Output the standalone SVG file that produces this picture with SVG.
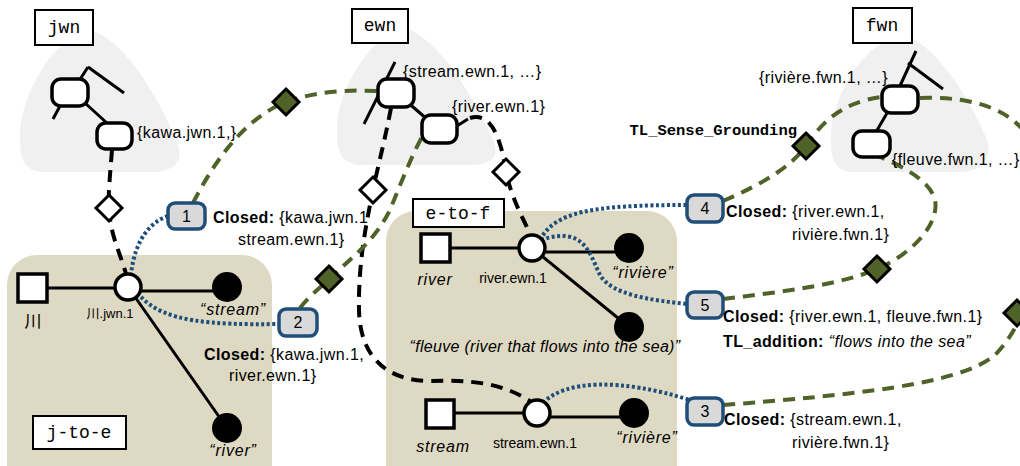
<svg xmlns="http://www.w3.org/2000/svg" width="1020" height="466" viewBox="0 0 1020 466">
<defs>
<style>
.blob{fill:#F0F0F0;stroke:none}
.panel{fill:#DDD9C3;stroke:none}
.tree{stroke:#000;stroke-width:3;fill:none}
.syn{fill:#fff;stroke:#000;stroke-width:3.5}
.sq{fill:#fff;stroke:#000;stroke-width:3.5}
.oc{fill:#fff;stroke:#000;stroke-width:3.5}
.dot{fill:#000}
.edge{stroke:#000;stroke-width:3;fill:none}
.bdash{stroke:#000;stroke-width:4;fill:none;stroke-dasharray:12 8}
.gdash{stroke:#4F6228;stroke-width:4;fill:none;stroke-dasharray:12 8}
.blue{stroke:#1F4E79;stroke-width:4;fill:none;stroke-dasharray:3 2.5}
.hd{fill:#fff;stroke:#000;stroke-width:3}
.gd{fill:#4F6228;stroke:#000;stroke-width:3}
.nb{fill:#D9D9D9;stroke:#1F4E79;stroke-width:3.5}
.lbl{fill:#fff;stroke:#000;stroke-width:2}
.mono{font-family:"Liberation Mono","Courier New",monospace;font-size:18px;fill:#000}
.sans{font-family:"Liberation Sans",Arial,sans-serif;font-size:16px;fill:#000;letter-spacing:0.4px}
.small{font-family:"Liberation Sans",Arial,"Noto Sans CJK JP",sans-serif;font-size:14px;fill:#000}
.it{font-family:"Liberation Sans",Arial,sans-serif;font-size:16px;font-style:italic;fill:#000;letter-spacing:0.8px}
.num{font-family:"Liberation Sans",Arial,sans-serif;font-size:16px;fill:#000}
.b{font-weight:bold}
</style>
</defs>

<!-- background blobs -->
<g id="wordnet-areas">
<path class="blob" d="M 95,32 C 130,45 165,110 178,145 C 184,165 170,172 150,172 L 45,172 C 25,172 19,160 20,135 C 21,95 55,30 95,32 Z"/>
<path class="blob" d="M 410,30 C 445,45 480,110 494,142 C 500,160 488,165 468,165 L 362,165 C 342,165 336,152 337,128 C 338,90 372,28 410,30 Z"/>
<path class="blob" d="M 907,36 C 942,50 975,110 987,140 C 993,160 980,172 960,172 L 855,172 C 835,172 830,160 831,135 C 832,95 868,34 907,36 Z"/>
</g>

<!-- panels -->
<g id="panel-j-to-e">
<rect class="panel" x="7" y="255" width="265" height="260" rx="30"/>
</g>
<g id="panel-e-to-f">
<rect class="panel" x="386" y="211" width="291" height="300" rx="30"/>
</g>

<!-- tree lines -->
<g id="tree-lines">
<line class="tree" x1="88" y1="67" x2="124" y2="93"/>
<line class="tree" x1="88" y1="67" x2="79" y2="81"/>
<line class="tree" x1="60" y1="106" x2="53" y2="119"/>
<line class="tree" x1="85" y1="103" x2="108" y2="124"/>
<line class="tree" x1="395" y1="62" x2="364" y2="124"/>
<line class="tree" x1="405" y1="100" x2="428" y2="120"/>
<line class="tree" x1="452" y1="129" x2="468" y2="119"/>
<line class="tree" x1="916" y1="51" x2="899" y2="88"/>
<line class="tree" x1="908" y1="63" x2="943" y2="89"/>
<line class="tree" x1="890" y1="108" x2="876" y2="132"/>
</g>

<!-- panel edges -->
<g id="panel-edges">
<line class="edge" x1="47" y1="288" x2="128" y2="288"/>
<line class="edge" x1="128" y1="291" x2="227" y2="291"/>
<line class="edge" x1="128" y1="287" x2="227" y2="428"/>
<line class="edge" x1="450" y1="248" x2="532" y2="248"/>
<line class="edge" x1="532" y1="252" x2="629" y2="252"/>
<line class="edge" x1="532" y1="248" x2="629" y2="327"/>
<line class="edge" x1="453" y1="413" x2="537" y2="413"/>
<line class="edge" x1="537" y1="417" x2="634" y2="417"/>
</g>

<!-- connectors -->
<g id="connectors">
<path class="bdash" d="M 112,150 C 110,175 108,195 109,208 C 110,235 121,255 126,274"/>
<path class="bdash" d="M 391,108 C 385,140 377,170 373,190 C 368,215 358,260 359,310 C 360,360 390,381 430,381 C 470,380 500,382 530,401"/>
<path class="bdash" d="M 470,118 C 490,112 498,135 503,155 C 505,165 505,168 506,172 C 512,200 524,220 531,236"/>
<path class="gdash" d="M 193,203 C 210,170 240,120 286,102 C 320,90 350,90 378,91"/>
<path class="gdash" d="M 300,308 C 310,295 320,288 329,279 C 355,255 375,240 390,210 C 400,185 412,155 424,133"/>
<path class="gdash" d="M 723,201 C 760,185 790,168 806,146 C 820,125 840,102 882,97"/>
<path class="gdash" d="M 723,299 C 780,292 840,285 877,269 C 910,255 940,225 935,200 C 930,180 900,165 878,156"/>
<path class="gdash" d="M 723,405 C 850,395 960,385 995,355 C 1030,320 1045,250 1045,200 C 1045,125 1000,95 918,98"/>
<path class="blue" d="M 168,216 C 150,222 135,240 131,274"/>
<path class="blue" d="M 141,297 C 165,322 210,325 279,324"/>
<path class="blue" d="M 540,240 C 555,212 590,205 687,205"/>
<path class="blue" d="M 541,240 C 585,225 590,255 600,275 C 612,295 650,300 687,304"/>
<path class="blue" d="M 543,403 C 565,380 620,378 690,400"/>
</g>

<!-- diamonds -->
<g id="diamonds">
<polygon class="hd" points="109,195 122,208 109,221 96,208"/>
<polygon class="hd" points="373,177 386,190 373,203 360,190"/>
<polygon class="hd" points="506,159 519,172 506,185 493,172"/>
<polygon class="gd" points="286,89 299,102 286,115 273,102"/>
<polygon class="gd" points="329,266 342,279 329,292 316,279"/>
<polygon class="gd" points="806,133 819,146 806,159 793,146"/>
<polygon class="gd" points="877,256 890,269 877,282 864,269"/>
<polygon class="gd" points="1017,300 1030,313 1017,326 1004,313"/>
</g>

<!-- jwn -->
<g id="jwn">
<rect class="lbl" x="35" y="10" width="58" height="35"/>
<text class="mono" x="64" y="33" text-anchor="middle">jwn</text>
<rect class="syn" x="52" y="79" width="36" height="27" rx="9"/>
<rect class="syn" x="97" y="123" width="35" height="26" rx="9"/>
<text class="sans" x="137" y="138">{kawa.jwn.1,}</text>
</g>

<!-- ewn -->
<g id="ewn">
<rect class="lbl" x="352" y="9" width="56" height="34"/>
<text class="mono" x="380" y="31" text-anchor="middle">ewn</text>
<rect class="syn" x="378" y="79" width="36" height="28" rx="9"/>
<rect class="syn" x="422" y="115" width="35" height="28" rx="9"/>
<text class="sans" x="403" y="77">{stream.ewn.1, …}</text>
<text class="sans" x="452" y="112">{river.ewn.1}</text>
</g>

<!-- fwn -->
<g id="fwn">
<rect class="lbl" x="853" y="8" width="59" height="35"/>
<text class="mono" x="882" y="31" text-anchor="middle">fwn</text>
<rect class="syn" x="882" y="86" width="36" height="27" rx="9"/>
<rect class="syn" x="853" y="131" width="37" height="26" rx="9"/>
<text class="sans" x="888" y="83" text-anchor="end">{rivière.fwn.1, …}</text>
<text class="sans" x="892" y="165">{fleuve.fwn.1, …}</text>
<text class="mono b" x="797" y="135" text-anchor="end" style="font-size:15.5px">TL_Sense_Grounding</text>
</g>

<!-- j-to-e contents -->
<g id="j-to-e">
<rect class="lbl" x="33" y="416" width="93" height="33"/>
<text class="mono" x="79" y="438" text-anchor="middle">j-to-e</text>
<rect class="sq" x="18" y="274" width="29" height="28"/>
<text class="small" x="33" y="327" text-anchor="middle" style="font-size:17px">川</text>
<circle class="oc" cx="128" cy="287" r="13"/>
<text class="small" x="110" y="318" text-anchor="middle" style="font-size:13px">川.jwn.1</text>
<circle class="dot" cx="227" cy="287" r="15"/>
<text class="it" x="233" y="315" text-anchor="middle">“stream”</text>
<circle class="dot" cx="227" cy="428" r="15"/>
<text class="it" x="233" y="456" text-anchor="middle">“river”</text>
</g>

<!-- e-to-f contents -->
<g id="e-to-f">
<rect class="lbl" x="413" y="199" width="91" height="28"/>
<text class="mono" x="458" y="219" text-anchor="middle">e-to-f</text>
<rect class="sq" x="421" y="234" width="29" height="28"/>
<text class="it" x="435" y="285" text-anchor="middle">river</text>
<circle class="oc" cx="532" cy="248" r="13"/>
<text class="small" x="513" y="283" text-anchor="middle">river.ewn.1</text>
<circle class="dot" cx="629" cy="248" r="15"/>
<text class="it" x="643" y="278" text-anchor="middle">“rivière”</text>
<circle class="dot" cx="629" cy="327" r="15"/>
<text class="it" x="545" y="352" text-anchor="middle" style="letter-spacing:0.3px">“fleuve (river that flows into the sea)”</text>
<rect class="sq" x="426" y="400" width="28" height="28"/>
<text class="it" x="443" y="452" text-anchor="middle">stream</text>
<circle class="oc" cx="537" cy="413" r="13"/>
<text class="small" x="535" y="448" text-anchor="middle">stream.ewn.1</text>
<circle class="dot" cx="634" cy="413" r="15"/>
<text class="it" x="647" y="443" text-anchor="middle">“rivière”</text>
</g>

<!-- numbered closures -->
<g id="closure-1">
<rect class="nb" x="168" y="203" width="37" height="26" rx="7"/>
<text class="num" x="186.5" y="222" text-anchor="middle">1</text>
<text class="sans" x="213" y="223"><tspan class="b">Closed:</tspan> {kawa.jwn.1</text>
<text class="sans" x="238" y="245">stream.ewn.1}</text>
</g>
<g id="closure-2">
<rect class="nb" x="279" y="309" width="38" height="27" rx="7"/>
<text class="num" x="298" y="328" text-anchor="middle">2</text>
<text class="sans" x="204" y="360"><tspan class="b">Closed:</tspan> {kawa.jwn.1,</text>
<text class="sans" x="229" y="381">river.ewn.1}</text>
</g>
<g id="closure-4">
<rect class="nb" x="687" y="195" width="36" height="27" rx="7"/>
<text class="num" x="705" y="214" text-anchor="middle">4</text>
<text class="sans" x="726" y="217"><tspan class="b">Closed:</tspan> {river.ewn.1,</text>
<text class="sans" x="792" y="240">rivière.fwn.1}</text>
</g>
<g id="closure-5">
<rect class="nb" x="687" y="292" width="36" height="26" rx="7"/>
<text class="num" x="705" y="311" text-anchor="middle">5</text>
<text class="sans" x="723" y="322"><tspan class="b">Closed:</tspan> {river.ewn.1, fleuve.fwn.1}</text>
<text class="sans" x="723" y="347"><tspan class="b">TL_addition:</tspan> <tspan font-style="italic">“flows into the sea”</tspan></text>
</g>
<g id="closure-3">
<rect class="nb" x="687" y="398" width="36" height="27" rx="7"/>
<text class="num" x="705" y="417" text-anchor="middle">3</text>
<text class="sans" x="724" y="425"><tspan class="b">Closed:</tspan> {stream.ewn.1,</text>
<text class="sans" x="792" y="448">rivière.fwn.1}</text>
</g>
</svg>
